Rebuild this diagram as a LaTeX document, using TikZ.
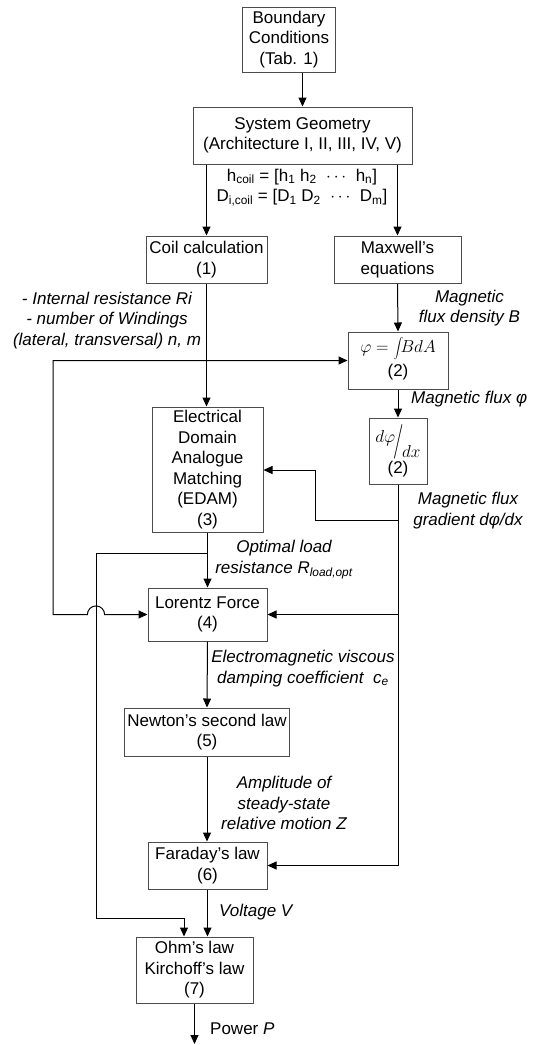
\documentclass[tikz,border=0pt]{standalone}
\usepackage{fontspec}
\setmainfont{Liberation Sans}
\usetikzlibrary{arrows.meta}
\begin{document}
\begin{tikzpicture}[x=1pt, y=-1pt,
    font=\fontsize{17}{20.5}\selectfont,
    box/.style={draw=black!70, line width=1pt, align=center, inner sep=0pt},
    lbl/.style={align=center, inner sep=0pt, font=\fontsize{17}{20.5}\selectfont\itshape},
    arr/.style={-{Triangle[length=9pt,width=8pt]}, line width=1pt}]
    \useasboundingbox (0,0) rectangle (542,1045);

    % Blocks
    \node[box, minimum width=93pt, minimum height=65pt] (bc) at (289,39.5) {Boundary\\Conditions\\(Tab. 1)};
    \node[box, minimum width=219pt, minimum height=57pt] (sg) at (302.5,135.5) {System Geometry\\(Architecture I, II, III, IV, V)};
    \node[box, minimum width=121pt, minimum height=47pt] (coil) at (206.5,259.5) {Coil calculation\\(1)};
    \node[box, minimum width=127pt, minimum height=47pt] (maxw) at (397.5,259.5) {Maxwell’s\\equations};
    \node[box, minimum width=100pt, minimum height=57pt] (phi) at (398,360.5)
        {$\varphi = \smash{\displaystyle\int}\! BdA$\\[4pt](2)};
    \node[box, minimum width=58pt, minimum height=66pt] (dphi) at (398,451)
        {\raisebox{0.9ex}{$d\varphi$}\kern-0.12em\scalebox{1.3}[2]{$/$}\kern-0.08em\raisebox{-0.7ex}{$dx$}\\[1pt](2)};
    \node[box, minimum width=111pt, minimum height=125pt] (edam) at (207.5,469.5) {Electrical\\Domain\\Analogue\\Matching\\(EDAM)\\(3)};
    \node[box, minimum width=119pt, minimum height=53pt] (lor) at (207.5,614.5) {Lorentz Force\\(4)};
    \node[box, minimum width=165pt, minimum height=48pt] (newt) at (207,732) {Newton’s second law\\(5)};
    \node[box, minimum width=119pt, minimum height=47pt] (far) at (207.5,865.5) {Faraday’s law\\(6)};
    \node[box, minimum width=117pt, minimum height=66pt] (ohm) at (194.5,970) {Ohm’s law\\Kirchoff’s law\\(7)};

    % Geometry parameters
    \node[align=center, inner sep=0pt] (geo) at (302,187.5)
        {h\textsubscript{coil} = [h\textsubscript{1} h\textsubscript{2} \ $\cdots$ \ h\textsubscript{n}]\\
         D\textsubscript{i,coil} = [D\textsubscript{1} D\textsubscript{2} \ $\cdots$ \ D\textsubscript{m}]};

    % Labels
    \node[lbl] (lcoil) at (107,320.5) {- Internal resistance Ri\\- number of Windings\\(lateral, transversal) n, m};
    \node[lbl] (lmaxw) at (469.5,308) {Magnetic\\flux density B};
    \node[lbl, anchor=west] (lphi) at (411,399) {Magnetic flux φ};
    \node[lbl] (lgrad) at (468,510.5) {Magnetic flux\\gradient dφ/dx};
    \node[lbl] (lload) at (284,559.5) {Optimal load\\resistance R\textsubscript{load,opt}};
    \node[lbl] (ldamp) at (303,668.5) {Electromagnetic viscous\\damping coefficient\ \ c\textsubscript{e}};
    \node[lbl] (lamp) at (284,803) {Amplitude of\\steady-state\\relative motion Z};
    \node[lbl, anchor=west] (lvolt) at (219,912) {Voltage V};
    \node[anchor=west, inner sep=0pt] (lpow) at (210,1029) {Power \textit{P}};

    % Helper points
    \coordinate (lcol) at (53,0);
    \coordinate (jmp) at (96,614.5);
    \coordinate (rb) at (207.5,553);
    \coordinate (rl) at (96,918);
    \coordinate (gbr) at (398,520);
    \coordinate (gup) at (315,470);
    \coordinate (pout) at (194.5,1044);

    % Main flow
    \draw[arr] (bc.south -| sg.north) -- (sg.north);
    \draw[arr] (sg.south -| coil.north) -- (coil.north);
    \draw[arr] (sg.south -| maxw.north) -- (maxw.north);
    \draw[arr] (coil.south) -- (coil.south |- edam.north);
    \draw[arr] (maxw.south) -- (phi.north);
    \draw[arr] (phi.south) -- (dphi.north);
    \draw[arr] (edam.south) -- (lor.north);
    \draw[arr] (lor.south) -- (newt.north);
    \draw[arr] (newt.south) -- (newt.south |- far.north);
    \draw[arr] (far.south) -- (far.south |- ohm.north);
    \draw[arr] (ohm.south) -- (pout);

    % Flux gradient feeds
    \draw[arr] (dphi.south) |- (far.east);
    \draw[arr] (dphi.south |- lor.east) -- (lor.east);
    \draw[arr] (gbr) -| (gup) -- (gup -| edam.east);

    % Coil parameters loop (with jump)
    \draw[{Triangle[length=9pt,width=8pt]}-{Triangle[length=9pt,width=8pt]}, line width=1pt]
        (phi.west) -| (lcol |- lor.west) -- ([xshift=-8.6pt]jmp)
        arc[start angle=180, end angle=0, radius=8.6pt] -- (lor.west);

    % Load resistance to Ohm's law
    \draw[arr] (rb) -| (rl) -| ([xshift=-10.5pt]ohm.north);
\end{tikzpicture}
\end{document}
